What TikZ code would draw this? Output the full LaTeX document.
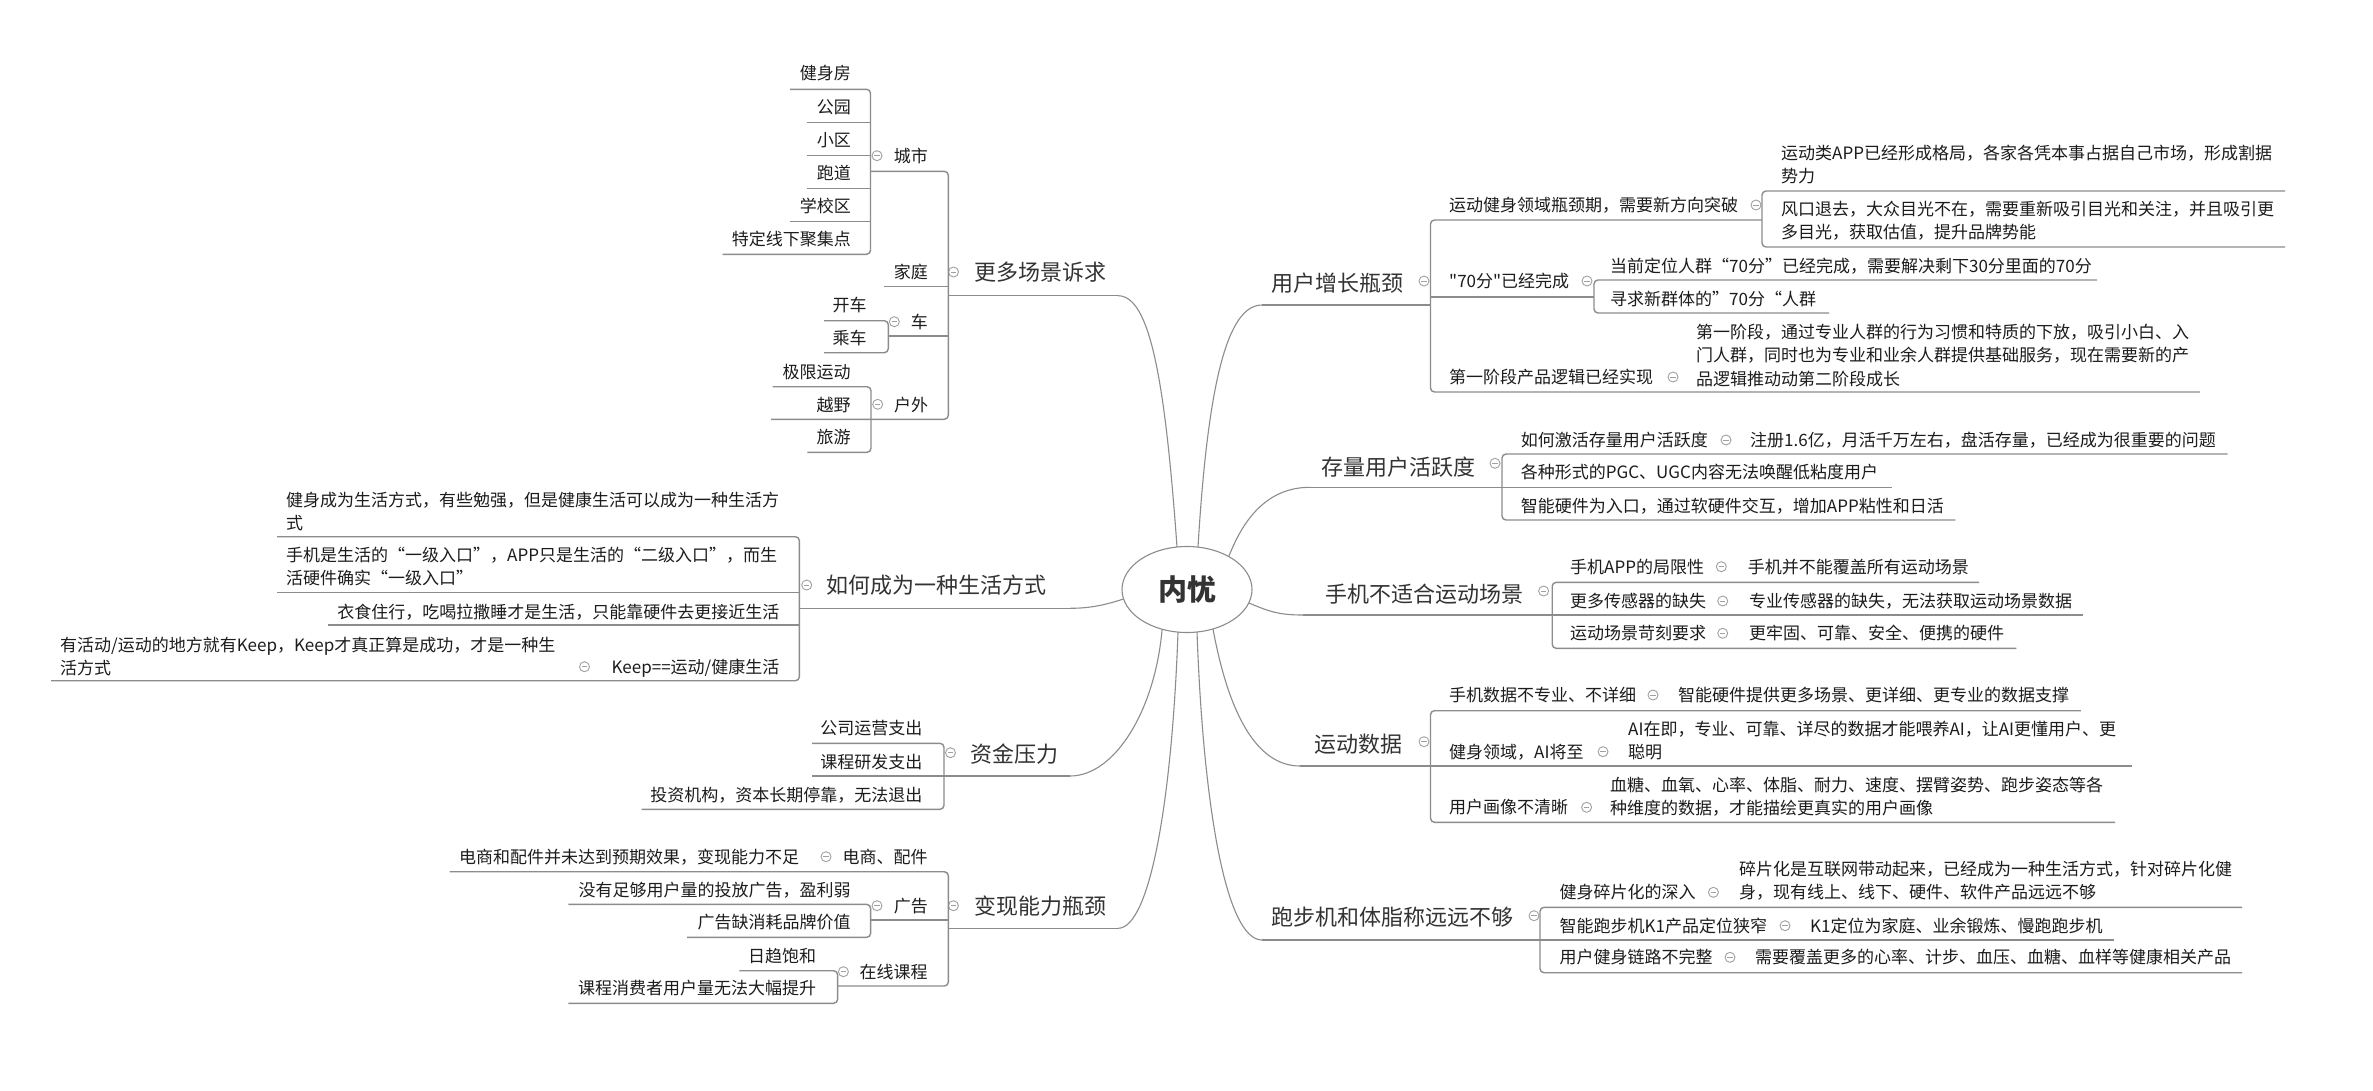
\documentclass[tikz,border=0pt]{standalone}
\usepackage{fontspec}
\setmainfont{Noto Sans CJK SC}[Ligatures=TeXOff]
\usetikzlibrary{shapes.geometric}
\definecolor{lc}{HTML}{8C8C8C}
\definecolor{cc}{HTML}{A0A0A0}
\definecolor{tc}{HTML}{1C1C1C}
\definecolor{tcm}{HTML}{333333}
\newcommand\lfnt{\fontsize{17}{23.3}\selectfont}
\newcommand\tfnt{\fontsize{22}{28}\selectfont}
\newcommand\cfnt{\fontsize{29}{34}\selectfont\bfseries}
\newcommand\ml[1]{\begin{tabular}[t]{@{}l@{}}#1\end{tabular}}
\begin{document}
\begin{tikzpicture}[x=1pt,y=-1pt,
  ul/.style={draw=lc, line width=1.4, rounded corners=4},
  cv/.style={draw=lc, line width=1.1},
  lr/.style={inner sep=0, font=\lfnt, text=tc, anchor=base west},
  ll/.style={inner sep=0, font=\lfnt, text=tc, anchor=base east},
  tr/.style={inner sep=0, font=\tfnt, text=tcm, anchor=base west},
  col/.style={circle, draw=cc, line width=0.9, minimum size=10, inner sep=0,
    path picture={\draw[cc, line width=0.9] ([xshift=-2.6pt]path picture bounding box.center) -- ([xshift=2.6pt]path picture bounding box.center);}}]
\fill[white] (0,0) rectangle (2373,1090);
\useasboundingbox (0,0) rectangle (2373,1090);

% ---------- connector end points ----------
\coordinate (e-m1) at (1177,547);
\coordinate (e-r1) at (1198,547);
\coordinate (e-r2) at (1229,556);
\coordinate (e-r3) at (1249,603);
\coordinate (e-m2) at (1123.5,599);
\coordinate (e-m3) at (1162,630);
\coordinate (e-m4) at (1178,632);
\coordinate (e-r5) at (1197,632);
\coordinate (e-r4) at (1213,629);
\coordinate (m1end) at (1118,295.7);
\coordinate (r1end) at (1262,305);
\coordinate (r2end) at (1310,487.3);
\coordinate (r3end) at (1303,615);
\coordinate (m2end) at (1070,608.3);
\coordinate (m3end) at (1070,776);
\coordinate (m4end) at (1118,928.3);
\coordinate (r4end) at (1300,766);
\coordinate (r5end) at (1262,940);

% ---------- curves from the centre ----------
\draw[cv] (e-m1) .. controls (1165,380) and (1150,295.7) .. (m1end);
\draw[cv] (e-r1) .. controls (1208,380) and (1228,305) .. (r1end);
\draw[cv] (e-r2) .. controls (1245,515) and (1270,487.3) .. (r2end);
\draw[cv] (e-r3) .. controls (1270,612) and (1280,615) .. (r3end);
\draw[cv] (e-m2) .. controls (1105,605) and (1090,608.3) .. (m2end);
\draw[cv] (e-m3) .. controls (1155,710) and (1115,776) .. (m3end);
\draw[cv] (e-m4) .. controls (1172,800) and (1150,928.3) .. (m4end);
\draw[cv] (e-r4) .. controls (1228,710) and (1255,766) .. (r4end);
\draw[cv] (e-r5) .. controls (1203,800) and (1225,940) .. (r5end);

\node[ellipse, draw=lc, line width=1.1, fill=white, minimum width=130, minimum height=86, inner sep=0, font=\cfnt, text=tcm] (C) at (1187,589.5) {内忧};

% ================= LEFT: 更多场景诉求 =================
\node[tr] (m1) at (974,280.4) {更多场景诉求};
\node[col] (m1c) at (953.5,272) {};
\draw[ul] (948.3,295.7) -- (m1end);
\draw[ul] (870.5,171.3) -- (948.3,171.3) -- (948.3,419.3) -- (771,419.3);
\draw[ul] (884.3,286.7) -- (948.3,286.7);
\draw[ul] (888.3,336) -- (948.3,336);
% 城市
\node[ll] (m1a) at (928,162.2) {城市};
\node[col] (m1ac) at (877,155.7) {};
\draw[ul] (790,89.3) -- (870.5,89.3) -- (870.5,254.3) -- (722.6,254.3);
\draw[ul] (807,122.3) -- (870.5,122.3);
\draw[ul] (807,155.3) -- (870.5,155.3);
\draw[ul] (807,188.3) -- (870.5,188.3);
\draw[ul] (790,221.3) -- (870.5,221.3);
\node[ll] (m1a1) at (851,79.5) {健身房};
\node[ll] (m1a2) at (851,113.2) {公园};
\node[ll] (m1a3) at (851,146.5) {小区};
\node[ll] (m1a4) at (851,179.2) {跑道};
\node[ll] (m1a5) at (851,212.2) {学校区};
\node[ll] (m1a6) at (851,245.5) {特定线下聚集点};
% 家庭
\node[ll] (m1b) at (928,278.5) {家庭};
% 车
\node[ll] (m1c1) at (928,328.2) {车};
\node[col] (m1cc) at (894.3,321.7) {};
\draw[ul] (824,320.7) -- (888.3,320.7) -- (888.3,352.7) -- (824,352.7);
\node[ll] (m1c2) at (866.7,311.5) {开车};
\node[ll] (m1c3) at (866.7,344.8) {乘车};
% 户外
\node[ll] (m1d) at (928.3,411.5) {户外};
\node[col] (m1dc) at (877.7,404.3) {};
\draw[ul] (772.7,386.7) -- (871,386.7) -- (871,452.3) -- (807.3,452.3);
\draw[ul] (807.3,419.3) -- (871,419.3);
\node[ll] (m1d1) at (850.7,378.2) {极限运动};
\node[ll] (m1d2) at (850.7,411.5) {越野};
\node[ll] (m1d3) at (850.7,443.2) {旅游};

% ================= LEFT: 如何成为一种生活方式 =================
\node[tr] (m2) at (826.6,593.4) {如何成为一种生活方式};
\node[col] (m2c) at (806.7,585) {};
\draw[ul] (799.4,608.3) -- (m2end);
\draw[ul] (277,536.7) -- (799.4,536.7) -- (799.4,680.7) -- (51,680.7);
\draw[ul] (277,592.3) -- (799.4,592.3);
\draw[ul] (327.8,625) -- (799.4,625);
\node[lr] (m2a) at (286,506.5) {\ml{健身成为生活方式，有些勉强，但是健康生活可以成为一种生活方\\式}};
\node[lr] (m2b) at (286,561.5) {\ml{手机是生活的“一级入口”，APP只是生活的“二级入口”，而生\\活硬件确实“一级入口”}};
\node[ll] (m2d) at (779.6,618.2) {衣食住行，吃喝拉撒睡才是生活，只能靠硬件去更接近生活};
\node[ll] (m2e) at (779.6,673.2) {Keep==运动/健康生活};
\node[col] (m2ec) at (584.5,666.7) {};
\node[lr] (m2e1) at (60,651.5) {\ml{有活动/运动的地方就有Keep，Keep才真正算是成功，才是一种生\\活方式}};

% ================= LEFT: 资金压力 =================
\node[tr] (m3) at (970,762.4) {资金压力};
\node[col] (m3c) at (950.5,752.7) {};
\draw[ul] (944,776) -- (m3end);
\draw[ul] (812,743.3) -- (944,743.3) -- (944,809.3) -- (641.7,809.3);
\draw[ul] (812,776) -- (944,776);
\node[ll] (m3a) at (922.6,734.8) {公司运营支出};
\node[ll] (m3b) at (922.6,768.2) {课程研发支出};
\node[ll] (m3d) at (922.6,801.5) {投资机构，资本长期停靠，无法退出};

% ================= LEFT: 变现能力瓶颈 =================
\node[tr] (m4) at (974,914.1) {变现能力瓶颈};
\node[col] (m4c) at (953.4,905.7) {};
\draw[ul] (948.3,928.3) -- (m4end);
\draw[ul] (449.6,871.7) -- (948.3,871.7) -- (948.3,986) -- (837.6,986);
\draw[ul] (870.6,920) -- (948.3,920);
\node[ll] (m4a) at (927.8,863.2) {电商、配件};
\node[col] (m4ac) at (826,856.7) {};
\node[ll] (m4a1) at (799.4,863.2) {电商和配件并未达到预期效果，变现能力不足};
\node[ll] (m4b) at (928,912.2) {广告};
\node[col] (m4bc) at (877,905.7) {};
\draw[ul] (568.4,904.3) -- (870.6,904.3) -- (870.6,937.3) -- (687.2,937.3);
\node[ll] (m4b1) at (850.8,896.5) {没有足够用户量的投放广告，盈利弱};
\node[ll] (m4b2) at (850.8,928.2) {广告缺消耗品牌价值};
\node[ll] (m4d) at (927.8,978.2) {在线课程};
\node[col] (m4dc) at (843.4,971.7) {};
\draw[ul] (739.3,970.7) -- (837.6,970.7) -- (837.6,1003.3) -- (568.4,1003.3);
\node[ll] (m4d1) at (816.3,962.5) {日趋饱和};
\node[ll] (m4d2) at (816.3,994.8) {课程消费者用户量无法大幅提升};

% ================= RIGHT: 用户增长瓶颈 =================
\node[tr] (r1) at (1271,291.4) {用户增长瓶颈};
\node[col] (r1c) at (1424,281) {};
\draw[ul] (r1end) -- (1430.5,305);
\draw[ul] (1762,220) -- (1430.5,220) -- (1430.5,392) -- (2200,392);
\draw[ul] (1430.5,297) -- (1594,297);
\node[lr] (r1a) at (1449,211.5) {运动健身领域瓶颈期，需要新方向突破};
\node[col] (r1ac) at (1756,205) {};
\draw[ul] (2285,191) -- (1762,191) -- (1762,247) -- (2285,247);
\node[lr] (r1a1) at (1781,159.5) {\ml{运动类APP已经形成格局，各家各凭本事占据自己市场，形成割据\\势力}};
\node[lr] (r1a2) at (1781,215.5) {\ml{风口退去，大众目光不在，需要重新吸引目光和关注，并且吸引更\\多目光，获取估值，提升品牌势能}};
\node[lr] (r1b) at (1449,287.5) {"70分"已经完成};
\node[col] (r1bc) at (1587,281) {};
\draw[ul] (2097,280) -- (1594,280) -- (1594,313) -- (1829,313);
\node[lr] (r1b1) at (1610,272.5) {当前定位人群“70分”已经完成，需要解决剩下30分里面的70分};
\node[lr] (r1b2) at (1610,305.5) {寻求新群体的”70分“人群};
\node[lr] (r1d) at (1449,383.5) {第一阶段产品逻辑已经实现};
\node[col] (r1dc) at (1673,377) {};
\node[lr] (r1d1) at (1696,338.5) {\ml{第一阶段，通过专业人群的行为习惯和特质的下放，吸引小白、入\\门人群，同时也为专业和业余人群提供基础服务，现在需要新的产\\品逻辑推动动第二阶段成长}};

% ================= RIGHT: 存量用户活跃度 =================
\node[tr] (r2) at (1321.6,475.1) {存量用户活跃度};
\node[col] (r2c) at (1495,463.3) {};
\draw[ul] (r2end) -- (1502,487.3);
\draw[ul] (2227.6,454) -- (1502,454) -- (1502,520) -- (1955.4,520);
\draw[ul] (1502,487.3) -- (1892.4,487.3);
\node[lr] (r2a) at (1520.7,446.5) {如何激活存量用户活跃度};
\node[col] (r2ac) at (1726,440) {};
\node[lr] (r2a1) at (1750,446.5) {注册1.6亿，月活千万左右，盘活存量，已经成为很重要的问题};
\node[lr] (r2b) at (1520.7,478.2) {各种形式的PGC、UGC内容无法唤醒低粘度用户};
\node[lr] (r2d) at (1520.7,512.5) {智能硬件为入口，通过软硬件交互，增加APP粘性和日活};

% ================= RIGHT: 手机不适合运动场景 =================
\node[tr] (r3) at (1325,602.7) {手机不适合运动场景};
\node[col] (r3c) at (1543.6,591) {};
\draw[ul] (r3end) -- (1552.2,615);
\draw[ul] (1979,582.3) -- (1552.2,582.3) -- (1552.2,648.3) -- (2016.3,648.3);
\draw[ul] (1552.2,615) -- (2083,615);
\node[lr] (r3a) at (1570,573.2) {手机APP的局限性};
\node[col] (r3ac) at (1721.3,566.7) {};
\node[lr] (r3a1) at (1747.7,573.2) {手机并不能覆盖所有运动场景};
\node[lr] (r3b) at (1570,607.5) {更多传感器的缺失};
\node[col] (r3bc) at (1722.7,601) {};
\node[lr] (r3b1) at (1749,607.5) {专业传感器的缺失，无法获取运动场景数据};
\node[lr] (r3d) at (1570,639.8) {运动场景苛刻要求};
\node[col] (r3dc) at (1722.7,633.3) {};
\node[lr] (r3d1) at (1749,639.8) {更牢固、可靠、安全、便携的硬件};

% ================= RIGHT: 运动数据 =================
\node[tr] (r4) at (1314.5,752.7) {运动数据};
\node[col] (r4c) at (1424,741.7) {};
\draw[ul] (r4end) -- (1430.5,766);
\draw[ul] (2080.8,710.7) -- (1430.5,710.7) -- (1430.5,822.3) -- (2115,822.3);
\draw[ul] (1430.5,766) -- (2132,766);
\node[lr] (r4a) at (1449,701.5) {手机数据不专业、不详细};
\node[col] (r4ac) at (1653,695) {};
\node[lr] (r4a1) at (1678,701.5) {智能硬件提供更多场景、更详细、更专业的数据支撑};
\node[lr] (r4b) at (1449,758.2) {健身领域，AI将至};
\node[col] (r4bc) at (1603,751.7) {};
\node[lr] (r4b1) at (1628,735.5) {\ml{AI在即，专业、可靠、详尽的数据才能喂养AI，让AI更懂用户、更\\聪明}};
\node[lr] (r4d) at (1449,813.8) {用户画像不清晰};
\node[col] (r4dc) at (1586.6,807.3) {};
\node[lr] (r4d1) at (1610,791.5) {\ml{血糖、血氧、心率、体脂、耐力、速度、摆臂姿势、跑步姿态等各\\种维度的数据，才能描绘更真实的用户画像}};

% ================= RIGHT: 跑步机和体脂称远远不够 =================
\node[tr] (r5) at (1271.5,925.7) {跑步机和体脂称远远不够};
\node[col] (r5c) at (1534,915.7) {};
\draw[ul] (r5end) -- (1540,940);
\draw[ul] (2242,907.3) -- (1540,907.3) -- (1540,972.7) -- (2242,972.7);
\draw[ul] (1540,940) -- (2114.4,940);
\node[lr] (r5a) at (1559.4,898.8) {健身碎片化的深入};
\node[col] (r5ac) at (1713.4,892.3) {};
\node[lr] (r5a1) at (1739,875.5) {\ml{碎片化是互联网带动起来，已经成为一种生活方式，针对碎片化健\\身，现有线上、线下、硬件、软件产品远远不够}};
\node[lr] (r5b) at (1559.4,932.2) {智能跑步机K1产品定位狭窄};
\node[col] (r5bc) at (1785,925.7) {};
\node[lr] (r5b1) at (1810,932.2) {K1定位为家庭、业余锻炼、慢跑跑步机};
\node[lr] (r5d) at (1559.4,963.8) {用户健身链路不完整};
\node[col] (r5dc) at (1730,957.3) {};
\node[lr] (r5d1) at (1755,963.8) {需要覆盖更多的心率、计步、血压、血糖、血样等健康相关产品};
\end{tikzpicture}
\end{document}
